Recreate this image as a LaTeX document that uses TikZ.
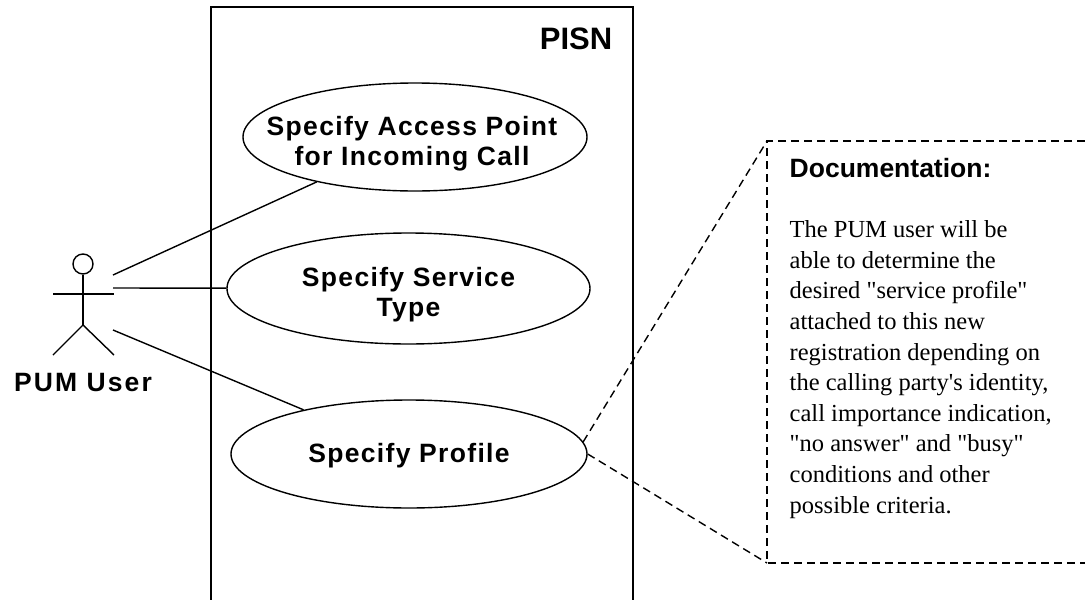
\documentclass[tikz,border=0pt]{standalone}
\usepackage{fontspec}
\newfontfamily\bodyfont{Liberation Serif}
\newfontfamily\headfont{Liberation Sans}
\newfontfamily\casefont[LetterSpace=5]{Liberation Sans}
\newfontfamily\userfont[LetterSpace=8]{Liberation Sans}
\usetikzlibrary{shapes.geometric}
\tikzset{
	usecase/.style={ellipse,draw,inner sep=0},
	casetext/.style={align=center,font=\casefont\fontsize{26.5}{30}\selectfont\bfseries},
	noteline/.style={dashed,dash pattern=on 8pt off 5pt},
	notebody/.style={anchor=north west,inner sep=0,align=left,font=\bodyfont\fontsize{24.5}{30.6}\selectfont}
}
\begin{document}
\begin{tikzpicture}[x=1pt,y=-1pt,line width=1.4pt]
\useasboundingbox (0,0) rectangle (1085,600);

\draw (211,600) -- (211,7) -- (633,7) -- (633,600);
\node (pisn) at (576,39) {\headfont\fontsize{31}{36}\selectfont\bfseries PISN};

\node[usecase,minimum width=344pt,minimum height=108pt,label={[casetext,xshift=-3pt,yshift=-7pt]center:Specify Access Point\\for Incoming Call}] (access) at (415,137) {};
\node[usecase,minimum width=363pt,minimum height=111pt,label={[casetext,yshift=-6.5pt]center:Specify Service\\Type}] (service) at (408.5,288.5) {};
\node[usecase,minimum width=356pt,minimum height=108pt,label={[casetext,yshift=-2pt]center:Specify Profile}] (profile) at (409,454) {};

% actor
\node[circle,draw,inner sep=0,minimum size=20pt] (head) at (83,264) {};
\coordinate (hip) at (83,325);
\coordinate (armL) at (53,294);
\coordinate (armR) at (114,294);
\coordinate (footL) at (53,355);
\coordinate (footR) at (114,355);
\draw (head) -- (hip);
\draw (armL) -- (armR);
\draw (footL) -- (hip) -- (footR);
\node (user) at (83,383) {\userfont\fontsize{26.5}{31}\selectfont\bfseries PUM User};

\coordinate (linkA) at (113,275);
\coordinate (linkB) at (113,288);
\coordinate (linkC) at (113,330);
\draw (linkA) -- (access);
\draw (linkB) -- (service);
\draw (linkC) -- (profile);

% note
\coordinate (noteT) at (767,141);
\coordinate (noteB) at (767,563);
\coordinate (noteTR) at (1085,141);
\coordinate (noteBR) at (1085,563);
\draw[noteline] (noteTR) -- (noteT) -- (noteB) -- (noteBR);
\draw[noteline] (profile.4.3) -- (noteT);
\draw[noteline] (profile.east) -- (noteB);
\node[anchor=north west,inner sep=0] (dochead) at (789,157.5) {\headfont\fontsize{26.5}{31}\selectfont\bfseries Documentation:};
\node[notebody] (docbody) at (789,220) {The PUM user will be\\able to determine the\\desired "service profile"\\attached to this new\\registration depending on\\the calling party's identity,\\call importance indication,\\"no answer" and "busy"\\conditions and other\\possible criteria.};

\end{tikzpicture}
\end{document}
